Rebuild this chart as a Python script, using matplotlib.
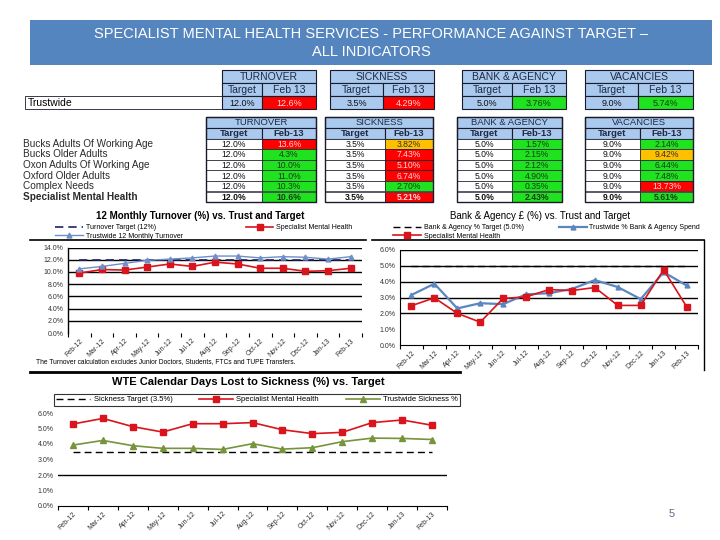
import numpy as np
import matplotlib
matplotlib.use('Agg')
import matplotlib.pyplot as plt
from matplotlib.patches import Rectangle

plt.rcParams['font.family'] = ['Liberation Sans', 'DejaVu Sans']

# data
months = ['Feb-12', 'Mar-12', 'Apr-12', 'May-12', 'Jun-12', 'Jul-12', 'Aug-12',
          'Sep-12', 'Oct-12', 'Nov-12', 'Dec-12', 'Jan-13', 'Feb-13']

turnover_smh = [9.8, 10.4, 10.3, 10.8, 11.3, 10.9, 11.6, 11.3, 10.6, 10.6, 10.1, 10.2, 10.6]
turnover_trust = [10.5, 10.9, 11.4, 11.9, 12.1, 12.3, 12.6, 12.6, 12.3, 12.5, 12.4, 12.1, 12.5]
turnover_target = 12.0

bank_smh = [2.48, 2.98, 2.0, 1.44, 2.94, 3.04, 3.5, 3.44, 3.63, 2.5, 2.5, 4.75, 2.43]
bank_trust = [3.16, 3.87, 2.31, 2.64, 2.58, 3.2, 3.27, 3.54, 4.1, 3.66, 2.9, 4.6, 3.76]
bank_target = 5.0

sick_smh = [5.29, 5.65, 5.12, 4.77, 5.31, 5.31, 5.38, 4.92, 4.67, 4.75, 5.38, 5.55, 5.21]
sick_trust = [3.93, 4.23, 3.89, 3.72, 3.72, 3.65, 4.02, 3.67, 3.76, 4.15, 4.38, 4.36, 4.29]
sick_target = 3.5

indicators = ['TURNOVER', 'SICKNESS', 'BANK & AGENCY', 'VACANCIES']
trust_targets = ['12.0%', '3.5%', '5.0%', '9.0%']
trust_feb = ['12.6%', '4.29%', '3.76%', '5.74%']
trust_status = ['R', 'R', 'G', 'G']

services = ['Bucks Adults Of Working Age', 'Bucks Older Adults', 'Oxon Adults Of Working Age',
            'Oxford Older Adults', 'Complex Needs', 'Specialist Mental Health']
svc_targets = ['12.0%', '3.5%', '5.0%', '9.0%']
svc_feb = [
    ['13.6%', '4.3%', '10.0%', '11.0%', '10.3%', '10.6%'],
    ['3.82%', '7.43%', '5.10%', '6.74%', '2.70%', '5.21%'],
    ['1.57%', '2.15%', '2.12%', '4.90%', '0.35%', '2.43%'],
    ['2.14%', '9.42%', '6.44%', '7.48%', '13.73%', '5.61%'],
]
svc_status = [
    ['R', 'G', 'G', 'G', 'G', 'G'],
    ['A', 'R', 'R', 'R', 'G', 'R'],
    ['G', 'G', 'G', 'G', 'G', 'G'],
    ['G', 'A', 'G', 'G', 'R', 'G'],
]

status_col = {'R': '#FF0000', 'A': '#FFC000', 'G': '#1EE31E'}
status_txt = {'R': '#FFD8D8', 'A': '#303030', 'G': '#1A3A1A'}
head_blue = '#A9C9EE'
red = '#D9141C'
blue = '#5B87C0'
green = '#77933C'

fig = plt.figure(figsize=(7.2, 5.4), dpi=100)

# overlay in pixel coordinates for the slide furniture and tables
bg = fig.add_axes([0, 0, 1, 1])
bg.set_xlim(0, 720)
bg.set_ylim(540, 0)
bg.axis('off')


def px_axes(x0, y0, x1, y1):
    return fig.add_axes([x0 / 720, 1 - y1 / 540, (x1 - x0) / 720, (y1 - y0) / 540])


def cell(x0, y0, x1, y1, fc, text='', tc='#111111', fs=6.5, bold=False, lw=0.8):
    bg.add_patch(Rectangle((x0, y0), x1 - x0, y1 - y0, facecolor=fc, edgecolor='#1A1A2A', lw=lw))
    if text:
        bg.text((x0 + x1) / 2, (y0 + y1) / 2 + 0.5, text, ha='center', va='center', fontsize=fs,
                color=tc, fontweight='bold' if bold else 'normal')


# title box
bg.add_patch(Rectangle((30, 20), 682, 45, facecolor='#5585BE', edgecolor='none'))
bg.text(371, 34, 'SPECIALIST MENTAL HEALTH SERVICES - PERFORMANCE AGAINST TARGET \u2013',
        ha='center', va='center', color='white', fontsize=10.5)
bg.text(371, 52, 'ALL INDICATORS', ha='center', va='center', color='white', fontsize=10.5)

# top table (trustwide)
top_blocks = [(222, 262, 316), (330, 383, 434), (462, 512, 566), (585, 638, 693)]
cell(25, 96, 222, 109, 'white', lw=0.6)
bg.text(28, 103, 'Trustwide', ha='left', va='center', fontsize=7.5)
for i, (a, m, b) in enumerate(top_blocks):
    cell(a, 70, b, 83, head_blue, indicators[i], tc='#1F2A44', fs=7.5)
    cell(a, 83, m, 96, head_blue, 'Target', tc='#1F2A44', fs=7.5)
    cell(m, 83, b, 96, head_blue, 'Feb 13', tc='#1F2A44', fs=7.5)
    cell(a, 96, m, 109, head_blue, trust_targets[i], fs=6.5)
    cell(m, 96, b, 109, status_col[trust_status[i]], trust_feb[i],
         tc=status_txt[trust_status[i]], fs=6.5)

# service table
svc_blocks = [(206, 262, 316), (325, 385, 433), (457, 512, 562), (585, 640, 693)]
row_top = 138.5
row_h = 10.6
for j, name in enumerate(services):
    bg.text(23, row_top + (j + 0.5) * row_h, name, ha='left', va='center', fontsize=7.2,
            color='#2A2A2A', fontweight='bold' if j == len(services) - 1 else 'normal')
for i, (a, m, b) in enumerate(svc_blocks):
    cell(a, 117, b, 127.5, head_blue, indicators[i], tc='#1F2A44', fs=6.8)
    cell(a, 127.5, m, 138.5, head_blue, 'Target', tc='#1F2A44', fs=6.8, bold=True)
    cell(m, 127.5, b, 138.5, head_blue, 'Feb-13', tc='#1F2A44', fs=6.8, bold=True)
    for j in range(len(services)):
        y0 = row_top + j * row_h
        last = j == len(services) - 1
        cell(a, y0, m, y0 + row_h, 'white', svc_targets[i], fs=6.2, bold=last, lw=0.5)
        st = svc_status[i][j]
        cell(m, y0, b, y0 + row_h, status_col[st], svc_feb[i][j], tc=status_txt[st],
             fs=6.2, bold=last, lw=0.5)
    bg.add_patch(Rectangle((a, 117), b - a, row_top + 6 * row_h - 117, facecolor='none',
                           edgecolor='#1A1A2A', lw=1.0))

# panel furniture
bg.plot([30, 366], [240, 240], color='black', lw=1.2)
bg.plot([372, 704], [240, 240], color='black', lw=1.2)
bg.plot([704, 704], [240, 370], color='black', lw=1.0)
bg.plot([30, 460], [372, 372], color='black', lw=2.0)
bg.text(200, 216, '12 Monthly Turnover (%) vs. Trust and Target', ha='center', va='center',
        fontsize=7, fontweight='bold')
bg.text(540, 216, 'Bank & Agency \u00a3 (%) vs. Trust and Target', ha='center', va='center',
        fontsize=7)
bg.text(248, 382, 'WTE Calendar Days Lost to Sickness (%) vs. Target', ha='center',
        va='center', fontsize=8, fontweight='bold')
bg.text(36, 362, 'The Turnover calculation excludes Junior Doctors, Students, FTCs and TUPE Transfers.',
        ha='left', va='center', fontsize=4.8)
bg.text(672, 514, '5', ha='center', va='center', fontsize=8, color='#5A6E8A')

x = np.arange(len(months))


def style_axes(ax, ymax, step, grid_vals, bottom_line):
    ax.set_xlim(-0.5, len(months) - 0.5)
    ax.set_ylim(0, ymax)
    ax.set_yticks(np.arange(0, ymax + step / 2, step))
    ax.set_yticklabels(['%.1f%%' % v for v in np.arange(0, ymax + step / 2, step)], fontsize=5,
                       color='#333333')
    ax.set_xticks(x)
    ax.set_xticklabels(months, rotation=45, ha='right', rotation_mode='anchor', fontsize=5,
                       color='#333333')
    ax.tick_params(axis='x', length=0, pad=3)
    ax.tick_params(axis='y', length=0, pad=3)
    ax.set_xticks(np.arange(-0.5, len(months)), minor=True)
    ax.tick_params(axis='x', which='minor', length=3, color='black', width=0.8)
    for v in grid_vals:
        ax.axhline(v, color='black', lw=1.0, zorder=1)
    for s in ['top', 'right']:
        ax.spines[s].set_visible(False)
    ax.spines['bottom'].set_visible(bottom_line)
    ax.patch.set_alpha(0)


# turnover chart
ax1 = px_axes(68, 247.5, 362, 333)
style_axes(ax1, 14, 2, [2, 4, 6, 8, 10, 12, 14], False)
ax1.spines['left'].set_linewidth(1.0)
l_t1, = ax1.plot(x, [turnover_target] * len(x), color='#1F2060', lw=1.2, ls=(0, (5, 3)), zorder=2)
l_s1, = ax1.plot(x, turnover_smh, color=red, lw=1.2, marker='s', ms=5, zorder=3)
l_w1, = ax1.plot(x, turnover_trust, color='#6F8FC9', lw=1.0, marker='^', ms=3.5, zorder=3)
fig.legend([l_t1, l_w1, l_s1], ['Turnover Target (12%)', 'Trustwide 12 Monthly Turnover',
                                'Specialist Mental Health'],
           loc='upper left', bbox_to_anchor=(52 / 720, 1 - 221 / 540), ncol=2, frameon=False,
           fontsize=5, handlelength=4, columnspacing=9, labelspacing=0.2, borderpad=0,
           handletextpad=0.4)

# bank & agency chart
ax2 = px_axes(400, 250, 698, 345)
style_axes(ax2, 6, 1, [2, 3, 4, 5, 6], True)
l_t2, = ax2.plot(x, [bank_target] * len(x), color='black', lw=1.0, ls=(0, (5, 3)), zorder=2)
l_w2, = ax2.plot(x, bank_trust, color=blue, lw=1.6, marker='^', ms=3.5, zorder=3)
l_s2, = ax2.plot(x, bank_smh, color=red, lw=1.2, marker='s', ms=4.5, zorder=4)
fig.legend([l_t2, l_s2, l_w2], ['Bank & Agency % Target (5.0%)', 'Specialist Mental Health',
                                'Trustwide % Bank & Agency Spend'],
           loc='upper left', bbox_to_anchor=(390 / 720, 1 - 221 / 540), ncol=2, frameon=False,
           fontsize=5, handlelength=4, columnspacing=5, labelspacing=0.2, borderpad=0,
           handletextpad=0.4)

# sickness chart
ax3 = px_axes(58, 413, 447, 506)
style_axes(ax3, 6, 1, [2], True)
ax3.spines['left'].set_visible(False)
l_t3, = ax3.plot(x, [sick_target] * len(x), color='black', lw=1.0, ls=(0, (5, 3)), zorder=2)
l_s3, = ax3.plot(x, sick_smh, color=red, lw=1.2, marker='s', ms=4.5, zorder=3)
l_w3, = ax3.plot(x, sick_trust, color=green, lw=1.2, marker='^', ms=4, zorder=3)
leg = fig.legend([l_t3, l_s3, l_w3], ['Sickness Target (3.5%)', 'Specialist Mental Health',
                                      'Trustwide Sickness %'],
                 loc='upper left', bbox_to_anchor=(50 / 720, 1 - 390 / 540), ncol=3,
                 frameon=True, fontsize=5.5, handlelength=4.5, columnspacing=3.5,
                 borderpad=0.3, handletextpad=0.4, fancybox=False)
leg.get_frame().set_edgecolor('black')
leg.get_frame().set_linewidth(0.8)

fig.savefig('out.png', dpi=100)
